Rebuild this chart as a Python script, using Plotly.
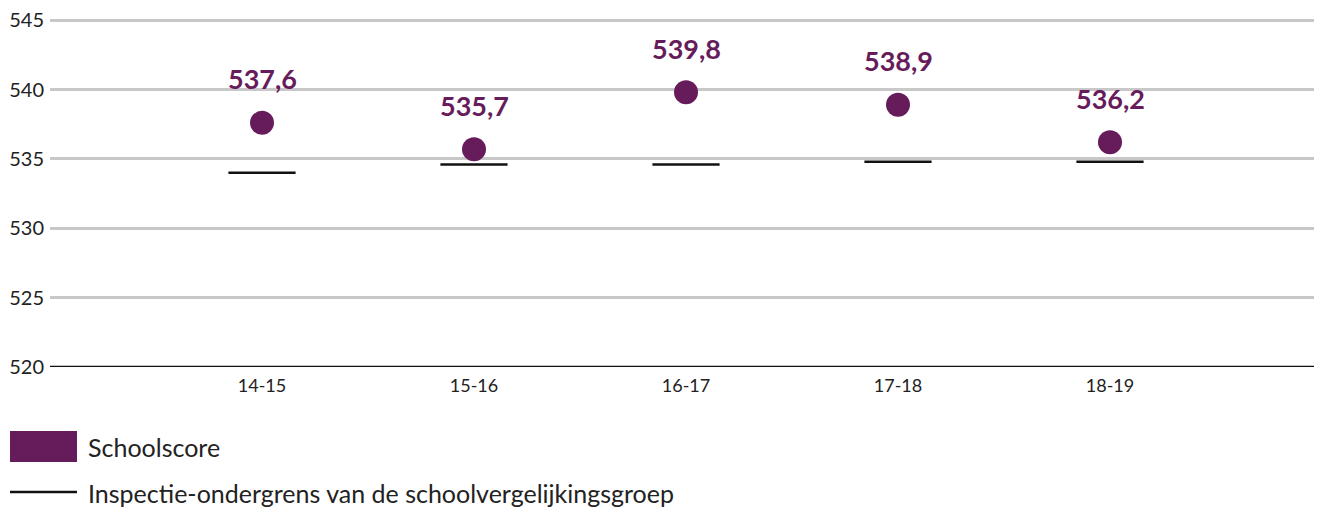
import plotly.graph_objects as go

years = ["14-15", "15-16", "16-17", "17-18", "18-19"]
school_score = [537.6, 535.7, 539.8, 538.9, 536.2]
lower_bound = [534.0, 534.6, 534.6, 534.8, 534.8]
y_ticks = [520, 525, 530, 535, 540, 545]

PURPLE = "#661c5b"
FONT = "Lato"
# page body has an 8px margin, so the figure starts at (8, 8)
OFF = 8
W, H = 1322 - OFF, 507 - OFF
# a little headroom above 545 so its gridline and label are kept
Y_TOP = 545.3
ML, MR, MT, MB = 50 - OFF, 0, 16 - OFF, 140


def px_x(x):
    return (x - OFF - ML) / (W - ML - MR)


def px_y(y):
    return (H - MB - (y - OFF)) / (H - MT - MB)


fig = go.Figure()
fig.add_trace(go.Scatter(
    x=years, y=lower_bound, mode="markers",
    marker=dict(symbol="line-ew", size=48, line=dict(color="#111111", width=2.5)),
    showlegend=False, hoverinfo="skip",
))
fig.add_trace(go.Scatter(
    x=years, y=school_score, mode="markers",
    marker=dict(size=24, color=PURPLE),
    showlegend=False,
))
for yr, v in zip(years, school_score):
    fig.add_annotation(x=yr, y=v, text=f"{v:.1f}".replace(".", ","),
                       showarrow=False, yshift=44,
                       font=dict(family=FONT, size=27, color=PURPLE, weight="bold"))

# legend drawn by hand
fig.add_shape(type="rect", xref="paper", yref="paper",
              x0=px_x(10), x1=px_x(77), y0=px_y(462), y1=px_y(431),
              fillcolor=PURPLE, line=dict(width=0))
fig.add_shape(type="line", xref="paper", yref="paper",
              x0=px_x(10), x1=px_x(77), y0=px_y(492), y1=px_y(492),
              line=dict(color="#111111", width=2.5))
fig.add_annotation(text="Schoolscore", xref="paper", yref="paper",
                   x=px_x(86), y=px_y(447), xanchor="left", yanchor="middle",
                   showarrow=False, font=dict(family=FONT, size=25, color="#222222"))
fig.add_annotation(text="Inspectie-ondergrens van de schoolvergelijkingsgroep",
                   xref="paper", yref="paper",
                   x=px_x(86), y=px_y(493), xanchor="left", yanchor="middle",
                   showarrow=False, font=dict(family=FONT, size=25, color="#222222"))

fig.update_layout(
    width=W, height=H,
    margin=dict(l=ML, r=MR, t=MT, b=MB),
    plot_bgcolor="white", paper_bgcolor="white",
    font=dict(family=FONT, color="#222222"),
    xaxis=dict(type="category", range=[-1, 5], showgrid=False, zeroline=False,
               showline=False, ticks="", tickfont=dict(size=18), ticklabelstandoff=6),
    yaxis=dict(range=[520, Y_TOP], tickvals=y_ticks, showgrid=True,
               gridcolor="#c8c8c8", gridwidth=2.5, zeroline=False, showline=False,
               ticks="", tickfont=dict(size=20), ticklabelstandoff=5,
               ticklabeloverflow="allow"),
)
fig.add_hline(y=520, line=dict(color="#111111", width=2.5))

fig.write_html("out.html")
